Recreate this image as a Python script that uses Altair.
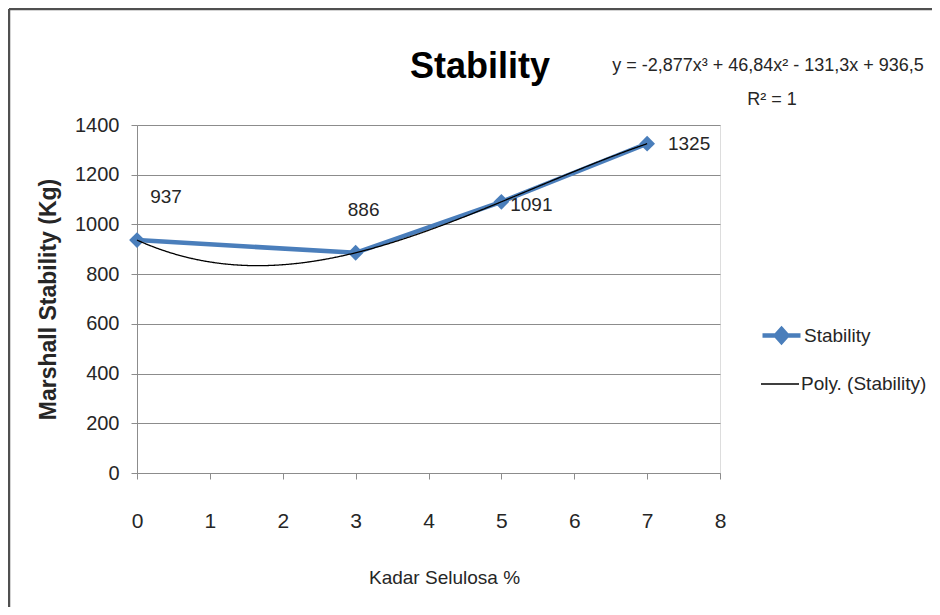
import altair as alt
import pandas as pd

# ---- data ----
kadar = [0, 3, 5, 7]
stability = [937, 886, 1091, 1325]
x_ticks = [0, 1, 2, 3, 4, 5, 6, 7, 8]
y_ticks = [0, 200, 400, 600, 800, 1000, 1200, 1400]
series_names = ["Stability", "Poly. (Stability)"]
chart_title = "Stability"
equation = "y = -2,877x³ + 46,84x² - 131,3x + 936,5"
r2_text = "R² = 1"

df = pd.DataFrame({"x": kadar, "y": stability})

FONT = "Liberation Sans, Arial, sans-serif"
BLUE = "#4A7EBB"
TXT = "#262626"
GRID = "#8C8C8C"

legend_line = alt.Legend(
    title=None,
    orient="none",
    legendX=623,
    legendY=189,
    symbolSize=1444,
    symbolType="M-1,0H1M0,-0.34L0.3,0L0,0.34L-0.3,0Z",
    symbolFillColor=BLUE,
    symbolStrokeColor=BLUE,
    symbolStrokeWidth=4.5,
    labelFont=FONT,
    labelFontSize=19,
    labelColor=TXT,
    labelOffset=1,
)
legend_trend = alt.Legend(
    title=None,
    orient="none",
    legendX=623,
    legendY=239,
    symbolSize=1444,
    symbolType="stroke",
    symbolStrokeColor="#000000",
    symbolStrokeWidth=1.3,
    labelFont=FONT,
    labelFontSize=19,
    labelColor=TXT,
    labelOffset=1,
)

x_enc = alt.X(
    "x:Q",
    scale=alt.Scale(domain=[0, 8], nice=False),
    axis=alt.Axis(
        values=x_ticks,
        format="d",
        title="Kadar Selulosa %",
        titleFont=FONT,
        titleFontSize=19,
        titleFontWeight="normal",
        titleColor=TXT,
        titleX=307,
        titleY=104,
        titleBaseline="middle",
        labelFont=FONT,
        labelFontSize=21,
        labelColor=TXT,
        labelBaseline="middle",
        labelFlush=False,
        labelPadding=42,
        tickSize=6,
        tickColor=GRID,
        domainColor=GRID,
        grid=False,
    ),
)
y_enc = alt.Y(
    "y:Q",
    scale=alt.Scale(domain=[0, 1400], nice=False),
    axis=alt.Axis(
        values=y_ticks,
        format="d",
        title="Marshall Stability (Kg)",
        titleFont=FONT,
        titleFontSize=23,
        titleFontWeight="bold",
        titleColor=TXT,
        titleX=-89,
        titleY=174,
        titleAngle=270,
        titleBaseline="middle",
        titleAlign="center",
        labelFont=FONT,
        labelFontSize=20,
        labelColor=TXT,
        labelFlush=False,
        labelPadding=12,
        tickSize=6,
        tickColor=GRID,
        domainColor=GRID,
        grid=True,
        gridColor=GRID,
        gridWidth=1,
    ),
)

base = alt.Chart(df)

line = base.transform_calculate(series=f"'{series_names[0]}'").mark_line(
    strokeWidth=4.5,
    point=alt.OverlayMarkDef(shape="diamond", size=250, filled=True, color=BLUE, opacity=1),
).encode(
    x=x_enc,
    y=y_enc,
    color=alt.Color(
        "series:N",
        scale=alt.Scale(domain=[series_names[0]], range=[BLUE]),
        legend=legend_line,
    ),
)

trend = base.transform_regression(
    "x", "y", method="poly", order=3, extent=[0, 7]
).transform_calculate(trend_name=f"'{series_names[1]}'").mark_line(
    strokeWidth=1.3, color="#000000"
).encode(
    x="x:Q",
    y="y:Q",
    strokeDash=alt.StrokeDash(
        "trend_name:N",
        scale=alt.Scale(domain=[series_names[1]], range=[[1, 0]]),
        legend=legend_trend,
    ),
)

def label_layer(xv, dx, dy):
    return base.transform_filter(alt.datum.x == xv).mark_text(
        font=FONT, fontSize=19, color=TXT, dx=dx, dy=dy, align="center", baseline="middle"
    ).encode(x="x:Q", y="y:Q", text="y:Q")

labels = [
    label_layer(0, 29, -43),
    label_layer(3, 8, -43),
    label_layer(5, 30, 3),
    label_layer(7, 42, 0),
]

ann = alt.Chart(pd.DataFrame({"t": [chart_title, equation, r2_text]}))
title_mark = ann.transform_filter(alt.datum.t == chart_title).mark_text(
    font=FONT, fontSize=36, fontWeight="bold", color="#000000", align="center", baseline="alphabetic"
).encode(x=alt.value(343), y=alt.value(-47), text="t:N")
eq = ann.transform_filter(alt.datum.t == equation).mark_text(
    font=FONT, fontSize=18, color=TXT, align="center", baseline="middle"
).encode(x=alt.value(631), y=alt.value(-59), text="t:N")
r2 = ann.transform_filter(alt.datum.t == r2_text).mark_text(
    font=FONT, fontSize=18, color=TXT, align="center", baseline="middle"
).encode(x=alt.value(635), y=alt.value(-25), text="t:N")

frame_df = pd.DataFrame({"k": [0]})
frame_top = alt.Chart(frame_df).mark_rule(color="#505050", strokeWidth=2.5).encode(
    x=alt.value(-128), x2=alt.value(800), y=alt.value(-116)
)
frame_left = alt.Chart(frame_df).mark_rule(color="#505050", strokeWidth=2.5).encode(
    x=alt.value(-128), y=alt.value(-116), y2=alt.value(490)
)

chart = alt.layer(line, trend, *labels, title_mark, eq, r2, frame_top, frame_left).properties(
    width=583,
    height=348,
    padding={"left": 129, "top": 117, "right": 212, "bottom": 134},
    autosize=alt.AutoSizeParams(type="none"),
).configure_view(stroke=None).configure(background="white")

chart.save("out.html", embed_options={"renderer": "svg", "actions": False})
